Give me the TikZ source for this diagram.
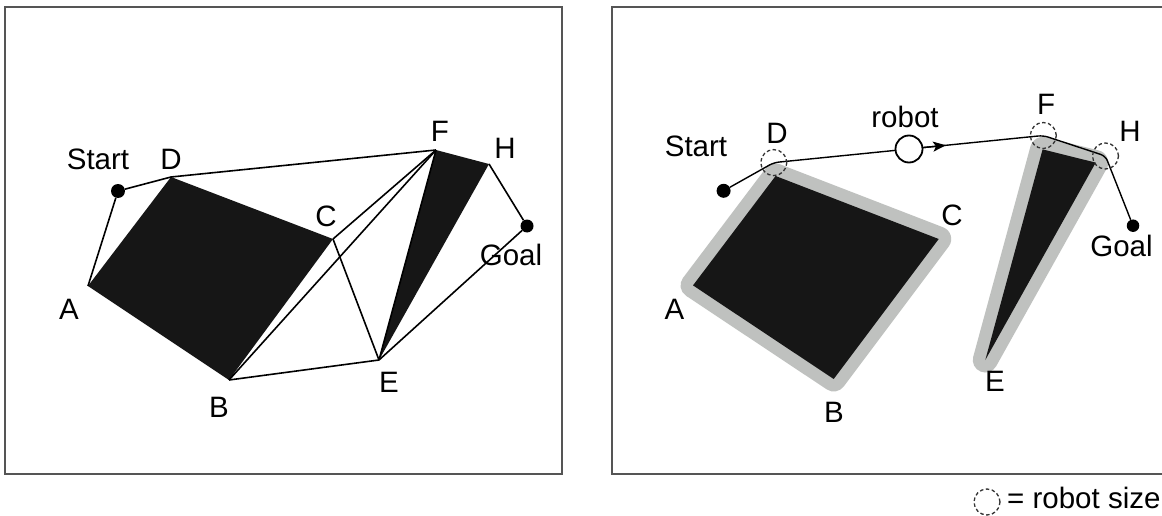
\documentclass[tikz,border=0pt]{standalone}
\usepackage{fontspec}
\setmainfont{Liberation Sans}
\usetikzlibrary{arrows.meta}
\definecolor{obst}{HTML}{161616}
\definecolor{grown}{HTML}{BFC1BF}
\definecolor{framec}{HTML}{555555}
\begin{document}
\begin{tikzpicture}[x=1pt,y=-1pt,
  lbl/.style={inner sep=0pt, font=\fontsize{29.5}{35}\selectfont},
  dot/.style={circle, fill=black, inner sep=0pt, minimum size=14pt},
  edge/.style={line width=1.6pt, draw=black},
  panel/.style={line width=2pt, draw=framec},
  obstacle/.style={fill=obst},
  grownob/.style={draw=grown, fill=grown, line width=25pt, line join=round},
  dashcirc/.style={circle, draw=black!80, dash pattern=on 3.5pt off 2.5pt, line width=1.3pt, minimum size=26pt, inner sep=0pt},
  robotc/.style={circle, draw=black, fill=white, line width=1.8pt, minimum size=27pt, inner sep=0pt}]
\clip (0,0) rectangle (1162,516);
\fill[white] (0,0) rectangle (1162,516);

% ---------- left panel ----------
\draw[panel] (5,7) rectangle (562,474);
\coordinate (lA) at (88,286);
\coordinate (lB) at (229,380);
\coordinate (lC) at (333,239);
\coordinate (lD) at (171,177);
\coordinate (lF) at (436,150);
\coordinate (lH) at (489,164);
\coordinate (lE) at (379,360);
\fill[obstacle] (lA) -- (lD) -- (lC) -- (lB) -- cycle;
\fill[obstacle] (lF) -- (lH) -- (lE) -- cycle;
\node[dot] (lS) at (118,191) {};
\node[dot, minimum size=13pt] (lG) at (527,226) {};
\draw[edge] (lS) -- (lD);
\draw[edge] (lS) -- (lA);
\draw[edge] (lD) -- (lF);
\draw[edge] (lC) -- (lF);
\draw[edge] (lB) -- (lF);
\draw[edge] (lC) -- (lE);
\draw[edge] (lB) -- (lE);
\draw[edge] (lE) -- (lF);
\draw[edge] (lE) -- (lG);
\draw[edge] (lH) -- (lG);
\node[lbl] (tlS) at (98,159) {Start};
\node[lbl] (tlD) at (171,159) {D};
\node[lbl] (tlC) at (326,216) {C};
\node[lbl] (tlF) at (440,131) {F};
\node[lbl] (tlH) at (505,148) {H};
\node[lbl] (tlG) at (511,255) {Goal};
\node[lbl] (tlA) at (69,309) {A};
\node[lbl] (tlB) at (219,407) {B};
\node[lbl] (tlE) at (389,382) {E};

% ---------- right panel ----------
\draw[panel] (612,7) rectangle (1180,474);
\coordinate (rA) at (693,285.4);
\coordinate (rB) at (833.7,379);
\coordinate (rC) at (938.7,239);
\coordinate (rD) at (775.6,176);
\coordinate (rF) at (1042.6,149.4);
\coordinate (rH) at (1095.7,162.6);
\coordinate (rE) at (985.3,360);
\filldraw[grownob] (rA) -- (rD) -- (rC) -- (rB) -- cycle;
\filldraw[grownob] (rF) -- (rH) -- (rE) -- cycle;
\fill[obstacle] (rA) -- (rD) -- (rC) -- (rB) -- cycle;
\fill[obstacle] (rF) -- (rH) -- (rE) -- cycle;

\node[dot] (rS) at (723.6,190.8) {};
\node[dot, minimum size=12.5pt] (rG) at (1133,225.7) {};
\coordinate (pD) at (773.8,162.6);
\coordinate (pF) at (1043.3,135.5);
\coordinate (pH) at (1105.5,156);
\draw[edge, line width=1.4pt, rounded corners=5pt] (rS) -- (pD) -- (pF) -- (pH) -- (rG);
\node[dashcirc] (cD) at (pD) {};
\node[dashcirc] (cF) at (pF) {};
\node[dashcirc] (cH) at (pH) {};
\node[robotc] (robot) at (909,149) {};
\coordinate (atip) at (946,145.3);
\draw[edge, line width=1.4pt, -{Stealth[length=13pt,width=10pt,inset=3pt]}] (robot) -- (atip);

\node[lbl] (trS) at (696,146) {Start};
\node[lbl] (trD) at (777,133) {D};
\node[lbl] (trR) at (905,117) {robot};
\node[lbl] (trF) at (1046,104) {F};
\node[lbl] (trH) at (1130,131) {H};
\node[lbl] (trC) at (952,215) {C};
\node[lbl] (trG) at (1121.5,246) {Goal};
\node[lbl] (trA) at (674.5,309) {A};
\node[lbl] (trB) at (834,412) {B};
\node[lbl] (trE) at (995,381) {E};

% legend
\node[dashcirc] (legc) at (987,502) {};
\node[lbl, anchor=base west] (legt) at (1007,508.5) {= robot size};
\end{tikzpicture}
\end{document}
